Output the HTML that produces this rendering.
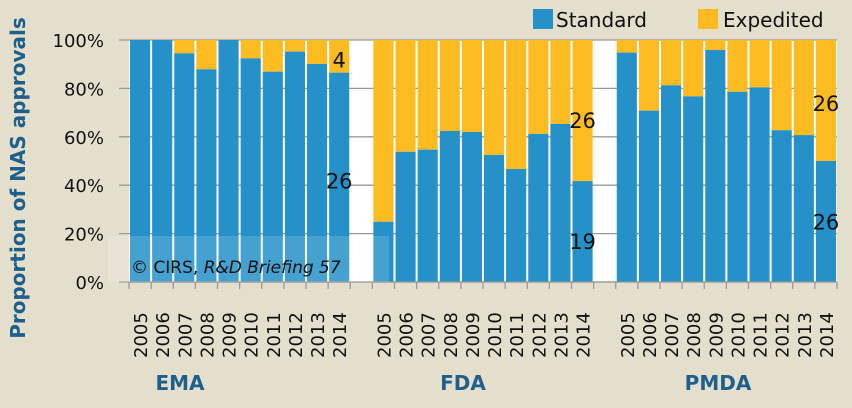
<!DOCTYPE html>
<html><head><meta charset="utf-8"><style>
html,body{margin:0;padding:0;background:#e4dfcd;}
svg{display:block;font-family:"DejaVu Sans","Liberation Sans",sans-serif;}
</style></head><body>
<svg id="chart" width="852" height="408" viewBox="0 0 852 408">
<rect x="0" y="0" width="852" height="408" fill="#e4dfcd"/>
<rect x="129" y="40" width="708" height="242" fill="#ffffff"/>
<g id="grid"></g>
<g id="bars"></g>
<g id="ticks"></g>
<rect x="108" y="236" width="281" height="46" fill="#ffffff" opacity="0.15"/>
<text x="131" y="273" font-size="17" fill="#111">© CIRS, <tspan font-style="italic">R&amp;D Briefing 57</tspan></text>
<text transform="translate(25,178) rotate(-90)" text-anchor="middle" font-size="20" font-weight="bold" fill="#1f5f8b">Proportion of NAS approvals</text>
<g>
<rect x="533" y="9" width="20" height="20" fill="#2591c8"/>
<text x="556" y="27" font-size="20" fill="#111">Standard</text>
<rect x="698" y="9" width="20" height="20" fill="#fdbb22"/>
<text x="723" y="27" font-size="20" fill="#111">Expedited</text>
</g>
<text x="180" y="390" text-anchor="middle" font-size="20" font-weight="bold" fill="#1f5f8b">EMA</text>
<text x="463" y="390" text-anchor="middle" font-size="20" font-weight="bold" fill="#1f5f8b">FDA</text>
<text x="718" y="390" text-anchor="middle" font-size="20" font-weight="bold" fill="#1f5f8b">PMDA</text>
<g id="annots"></g>
</svg>
<script>
const years = ["2005","2006","2007","2008","2009","2010","2011","2012","2013","2014"];
const groups = ["EMA","FDA","PMDA"];
const emaStandard = [100,100,94.5,87.9,100,92.4,86.9,95.2,90.1,86.5];
const fdaStandard = [24.9,53.8,54.7,62.4,62,52.5,46.7,61.2,65.3,41.7];
const pmdaStandard = [94.8,70.8,81.3,76.7,95.9,78.6,80.4,62.7,60.7,50];
const yTicks = [0,20,40,60,80,100];
const yTickLabels = ["0%","20%","40%","60%","80%","100%"];

const NS="http://www.w3.org/2000/svg";
const X0=129, X1=837, Y0=282, Y1=40;
const nSlots=32, slotW=(X1-X0)/nSlots;
const y = v => Y0 - (v/100)*(Y0-Y1);
const slotX = i => X0 + i*slotW;
function mk(tag, attrs, parent){const e=document.createElementNS(NS,tag);for(const k in attrs)e.setAttribute(k,attrs[k]);parent.appendChild(e);return e;}
const grid=document.getElementById('grid'), bars=document.getElementById('bars'), ticks=document.getElementById('ticks'), ann=document.getElementById('annots');

yTicks.forEach((t,i)=>{
  const l=mk('line',{x1:119,x2:X1,y1:y(t),y2:y(t),stroke:'#999','stroke-width':1.3},grid);
  
  
  const tx=mk('text',{x:104,y:y(t)+7,'text-anchor':'end','font-size':18,fill:'#111'},grid);
  tx.textContent=yTickLabels[i];
  
  
});

const series=[emaStandard,fdaStandard,pmdaStandard];
series.forEach((vals,g)=>{
  vals.forEach((v,j)=>{
    const slot=g*11+j;
    const x=slotX(slot)+1, w=slotW-2;
    const exp=mk('rect',{x:x,y:y(100),width:w,height:y(v)-y(100),fill:'#fdbb22'},bars);
    
    
    const st=mk('rect',{x:x,y:y(v),width:w,height:Y0-y(v),fill:'#2591c8'},bars);
    
    
    const lab=mk('text',{transform:'translate('+(slotX(slot)+slotW/2+7)+',358) rotate(-90)','font-size':18,fill:'#111'},ticks);
    lab.textContent=years[j];
    
    
  });
});
mk('line',{x1:X0,x2:X1,y1:Y0,y2:Y0,stroke:'#999','stroke-width':1.3},ticks);
for(let i=0;i<=nSlots;i++){
  const t=mk('line',{x1:slotX(i),x2:slotX(i),y1:Y0,y2:Y0+7,stroke:'#999','stroke-width':1.3},ticks);
  
  
}
const notes=[["4",9,0,92],["26",9,0,42],["26",20,0,67],["19",20,0,17],["26",31,0,74],["26",31,0,25]];
notes.forEach(n=>{
  const t=mk('text',{x:slotX(n[1])+slotW/2,y:y(n[3])+8,'text-anchor':'middle','font-size':21,fill:'#111'},ann);
  t.textContent=n[0];
  
  
});
</script>
</body></html>
